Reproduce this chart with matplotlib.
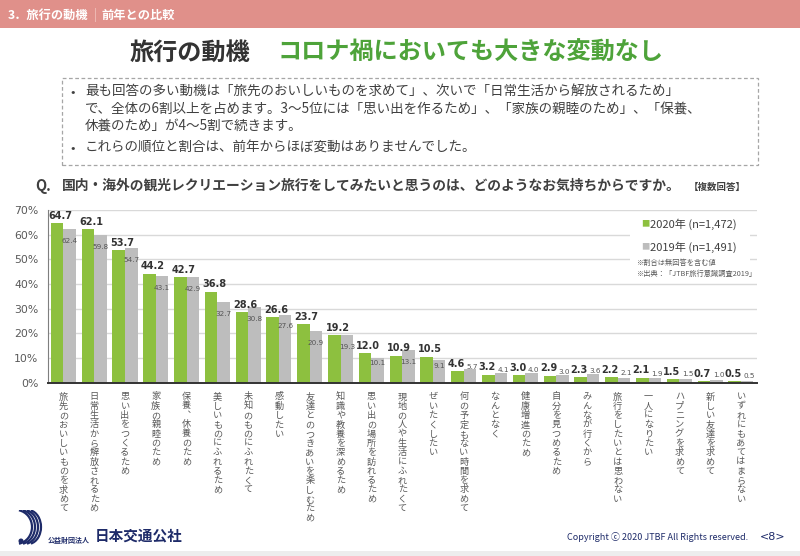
import numpy as np
import matplotlib
matplotlib.use("Agg")
import matplotlib.pyplot as plt
from matplotlib.patches import Rectangle, Arc, Circle

plt.rcParams["font.family"] = ["Noto Sans CJK JP", "DejaVu Sans"]

# data
cats = ["旅先のおいしいものを求めて", "日常生活から解放されるため", "思い出をつくるため",
        "家族の親睦のため", "保養︑休養のため", "美しいものにふれるため",
        "未知のものにふれたくて", "感動したい", "友達とのつきあいを楽しむため",
        "知識や教養を深めるため", "思い出の場所を訪れるため", "現地の人や生活にふれたくて",
        "ぜいたくしたい", "何の予定もない時間を求めて", "なんとなく", "健康増進のため",
        "自分を見つめるため", "みんなが行くから", "旅行をしたいとは思わない",
        "一人になりたい", "ハプニングを求めて", "新しい友達を求めて", "いずれにもあてはまらない"]
vals_2020 = [64.7, 62.1, 53.7, 44.2, 42.7, 36.8, 28.6, 26.6, 23.7, 19.2, 12.0, 10.9,
             10.5, 4.6, 3.2, 3.0, 2.9, 2.3, 2.2, 2.1, 1.5, 0.7, 0.5]
vals_2019 = [62.4, 59.8, 54.7, 43.1, 42.9, 32.7, 30.8, 27.6, 20.9, 19.3, 10.1, 13.1,
             9.1, 5.7, 4.1, 4.0, 3.0, 3.6, 2.1, 1.9, 1.5, 1.0, 0.5]
series_labels = ["2020年 (n=1,472)", "2019年 (n=1,491)"]
notes = ["※割合は無回答を含む値", "※出典：「JTBF旅行意識調査2019」"]
yticks = [0, 10, 20, 30, 40, 50, 60, 70]

GREEN = "#8DC03F"
GRAY = "#BDBDBD"
NAVY = "#1E2B69"
W, H = 800, 556


def fx(px):
    return px / W


def fy(py):
    return 1 - py / H


fig = plt.figure(figsize=(8, 5.56), dpi=100)

# header band
fig.add_artist(Rectangle((0, fy(28)), 1, 28 / H, transform=fig.transFigure,
                         color="#E0908A", lw=0, zorder=0))
fig.text(fx(8), fy(15), "3．旅行の動機", color="white", fontsize=8.8,
         fontweight="bold", va="center")
fig.text(fx(94), fy(15), "|", color="#F2C4BF", fontsize=9, va="center")
fig.text(fx(101), fy(15), "前年との比較", color="white", fontsize=8.8,
         fontweight="bold", va="center")

# title
fig.text(fx(130), fy(53), "旅行の動機", color="#333333", fontsize=17.4,
         fontweight="bold", va="center")
fig.text(fx(278), fy(53), "コロナ禍においても大きな変動なし", color="#4EA33A",
         fontsize=17.4, fontweight="bold", va="center")

# summary box
fig.add_artist(Rectangle((fx(62), fy(165)), (758 - 62) / W, (165 - 78) / H,
                         transform=fig.transFigure, fill=False, ec="#A6A6A6",
                         lw=0.9, ls=(0, (3, 2))))
body = [
    (92, "•", "最も回答の多い動機は「旅先のおいしいものを求めて」、次いで「日常生活から解放されるため」"),
    (109, "", "で、全体の6割以上を占めます。3～5位には「思い出を作るため」、「家族の親睦のため」、「保養、"),
    (126, "", "休養のため」が4～5割で続きます。"),
    (148, "•", "これらの順位と割合は、前年からほぼ変動はありませんでした。"),
]
for yy, bullet, line in body:
    if bullet:
        fig.text(fx(70), fy(yy), bullet, color="#404040", fontsize=9.5, va="center")
    fig.text(fx(85), fy(yy), line, color="#404040", fontsize=9.75, va="center")

# question
fig.text(fx(35), fy(186), "Q.", color="#404040", fontsize=10.5, fontweight="bold",
         va="center")
fig.text(fx(62), fy(186), "国内・海外の観光レクリエーション旅行をしてみたいと思うのは、どのようなお気持ちからですか。",
         color="#404040", fontsize=9.95, fontweight="bold", va="center")
fig.text(fx(689), fy(187), "【複数回答】", color="#404040", fontsize=6.8,
         fontweight="bold", va="center")

# chart
ax = fig.add_axes([fx(48), fy(382.7), (757 - 48) / W, (382.7 - 210) / H])
x = np.arange(len(cats))
w = 0.406
ax.bar(x - w / 2, vals_2020, w, color=GREEN, zorder=2)
ax.bar(x + w / 2, vals_2019, w, color=GRAY, zorder=2)

for i, (a, b) in enumerate(zip(vals_2020, vals_2019)):
    gx = i - 0.1 if a >= 9 else i - 0.25
    ax.text(gx, a + 1.0, f"{a:.1f}", ha="center", va="bottom", fontsize=7,
            fontweight="bold", color="#333333", family="DejaVu Sans", zorder=3)
    if b >= 12:
        by = b - 4.8
    elif b >= 9:
        by = b - 2.2
    else:
        by = b + 2.2 - 0.25 * b
    bx = i + 0.2 if b >= 9 else i + 0.27
    ax.text(bx, by, f"{b:.1f}", ha="center", va="center", fontsize=5.2,
            color="#555555", family="DejaVu Sans", zorder=3)

ax.set_xlim(-0.5, 22.52)
ax.set_ylim(0, 70)
ax.set_yticks(yticks, [f"{t}%" for t in yticks])
ax.set_xticks(x, ["\n".join(c) for c in cats])
ax.tick_params(axis="y", length=0, pad=7, labelsize=7.8, labelcolor="#595959")
ax.tick_params(axis="x", length=0, pad=7, labelsize=6.6, labelcolor="#595959")
for lab in ax.get_yticklabels():
    lab.set_family("DejaVu Sans")
for lab in ax.get_xticklabels():
    lab.set_linespacing(1.04)
    lab.set_verticalalignment("top")
ax.grid(axis="y", color="#D9D9D9", lw=1.0, zorder=0)
ax.set_axisbelow(True)
for s in ["top", "right"]:
    ax.spines[s].set_visible(False)
ax.spines["left"].set_color("#7F7F7F")
ax.spines["bottom"].set_color("#333333")
ax.spines["bottom"].set_linewidth(1.4)

# legend area
fig.add_artist(Rectangle((fx(630), fy(280)), (750 - 630) / W, (280 - 215) / H,
                         transform=fig.transFigure, color="white", lw=0, zorder=1))
for yy, col, lab in [(224, GREEN, series_labels[0]), (247, GRAY, series_labels[1])]:
    fig.text(fx(641), fy(yy), "■", color=col, fontsize=6, va="center", zorder=2)
    fig.text(fx(650), fy(yy), lab, color="#404040", fontsize=8, va="center",
             zorder=2)
fig.text(fx(637), fy(263), notes[0], color="#595959", fontsize=5.2, va="center", zorder=2)
fig.text(fx(637), fy(274), notes[1], color="#595959", fontsize=5.2, va="center", zorder=2)

# footer
fig.add_artist(Rectangle((0, 0), 1, 5 / H, transform=fig.transFigure,
                         color="#EDEDED", lw=0))
lax = fig.add_axes([fx(12), fy(546), 36 / W, 36 / H])
lax.set_xlim(0, 36)
lax.set_ylim(0, 36)
lax.axis("off")
for cx, r in [(4, 16), (8, 15), (12, 14), (16, 13)]:
    lax.add_patch(Arc((cx, 19), 2 * r, 34, theta1=-80, theta2=80, color=NAVY, lw=1.6))
lax.add_patch(Circle((9, 5), 1.8, color=NAVY))
fig.text(fx(48), fy(540), "公益財団法人", color=NAVY, fontsize=5, fontweight="bold",
         va="center")
fig.text(fx(95), fy(536), "日本交通公社", color=NAVY, fontsize=10.5,
         fontweight="bold", va="center")
fig.text(fx(567), fy(537), "Copyright ⓒ 2020 JTBF All Rights reserved.",
         color=NAVY, fontsize=6.5, va="center",
         family=["Liberation Sans Narrow", "Noto Sans CJK JP", "DejaVu Sans"])
fig.text(fx(760), fy(537), "<8>", color=NAVY, fontsize=8, va="center",
         family=["Liberation Sans Narrow", "DejaVu Sans"])

fig.savefig("out.png", dpi=100)
